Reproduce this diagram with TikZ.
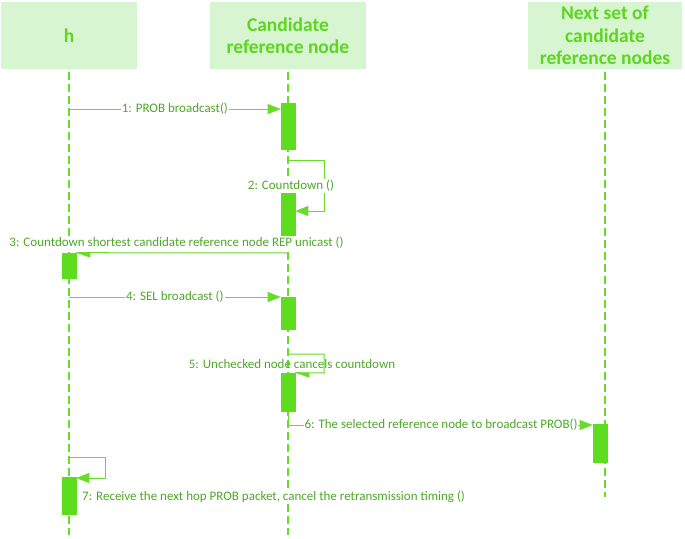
\documentclass[tikz,border=0pt]{standalone}
\usepackage{fontspec}
\setmainfont{Carlito}
\usetikzlibrary{arrows.meta}
\definecolor{lineg}{RGB}{104,220,40}
\definecolor{actg}{RGB}{94,220,30}
\definecolor{txtg}{RGB}{78,168,40}
\definecolor{headfill}{RGB}{216,245,210}
\definecolor{headtxt}{RGB}{92,214,30}
\begin{document}
\begin{tikzpicture}[x=1pt,y=-1pt,
  header/.style={fill=headfill, draw=none, text=headtxt, font=\fontsize{19.5}{22.5}\selectfont\bfseries, align=center, minimum height=67pt, inner sep=0pt},
  lifeline/.style={draw=lineg, line width=1.2pt, dash pattern=on 8pt off 4pt},
  act/.style={fill=actg, draw=actg, line width=0.6pt, minimum width=14pt, inner sep=0pt},
  msg/.style={draw=lineg, line width=1pt, -{Triangle[length=13pt,width=10pt]}},
  plainmsg/.style={draw=lineg, line width=1pt},
  halfhead/.style={fill=lineg, draw=none},
  lbl/.style={text=txtg, font=\fontsize{13}{15}\selectfont, fill=white, inner sep=1pt}
]
\useasboundingbox (0,0) rectangle (685,538);
% headers
\node[header, minimum width=136pt] (hH) at (69,35.5) {h};
\node[header, minimum width=156pt] (hC) at (288,35.5) {Candidate\\reference node};
\node[header, minimum width=154pt] (hN) at (605,35.5) {Next set of\\candidate\\reference nodes};
% lifeline ends
\coordinate (eH) at (69,535);
\coordinate (eC) at (288,535);
\coordinate (eN) at (605,497);
\draw[lifeline] (hH.south) ++(0,3) -- (eH);
\draw[lifeline] (hC.south) ++(0,3) -- (eC);
\draw[lifeline] (hN.south) ++(0,3) -- (eN);
% activations
\node[act, minimum height=46pt] (a1) at (288,126) {};
\node[act, minimum height=47pt] (a2) at (288,216.5) {};
\node[act, minimum height=25pt] (a3) at (69,265.5) {};
\node[act, minimum height=32pt] (a4) at (288,313) {};
\node[act, minimum height=38pt] (a5) at (288,392) {};
\node[act, minimum height=38pt] (a6) at (600,443) {};
\node[act, minimum height=37pt] (a7) at (69,495.5) {};
% 1
\coordinate (m1s) at (69,109);
\draw[msg] (m1s) -- (m1s -| a1.west) node[lbl, midway] {1: PROB broadcast()};
% 2
\coordinate (m2s) at (288,160);
\coordinate (m2r) at (324,160);
\coordinate (m2d) at (324,211);
\draw[msg] (m2s) -- (m2r) -- (m2d) -- (m2d -| a2.east);
\node[lbl] (l2) at (291,186) {2: Countdown ()};
% 3
\coordinate (m3s) at (288,253);
\draw[plainmsg] (m3s) -- (a3.north east);
\fill[halfhead] (a3.north east) -- ++(14,0) -- ++(0,5) -- cycle;
\node[lbl] (l3) at (176.5,243) {3: Countdown shortest candidate reference node REP unicast ()};
% 4
\coordinate (m4s) at (69,297);
\draw[msg] (m4s) -- (m4s -| a4.west) node[lbl, midway] {4: SEL broadcast ()};
% 5
\coordinate (m5s) at (288,354);
\coordinate (m5r) at (324,354);
\coordinate (m5d) at (324,373);
\draw[plainmsg] (m5s) -- (m5r) -- (m5d) -- (a5.north east);
\fill[halfhead] (a5.north east) -- ++(14,0) -- ++(0,5) -- cycle;
\node[lbl, fill=none] (l5) at (292,364.5) {5: Unchecked node cancels countdown};
% 6
\coordinate (m6s) at (288,425);
\draw[msg] (a5.south) -- (m6s) -- (m6s -| a6.west);
\node[lbl] (l6) at (441,425) {6: The selected reference node to broadcast PROB()};
% 7
\coordinate (m7s) at (69,457);
\coordinate (m7r) at (105,457);
\coordinate (m7d) at (105,478);
\draw[msg] (m7s) -- (m7r) -- (m7d) -- (m7d -| a7.east);
\node[lbl, anchor=west] (l7) at (81,497) {7: Receive the next hop PROB packet, cancel the retransmission timing ()};
\end{tikzpicture}
\end{document}
